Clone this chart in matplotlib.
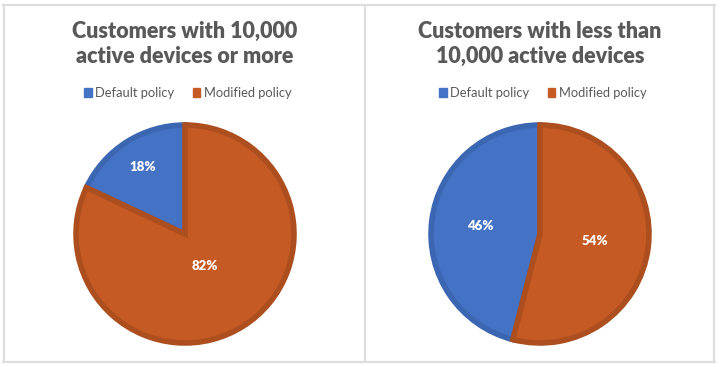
import math

import matplotlib
matplotlib.use('Agg')
import matplotlib.pyplot as plt
from matplotlib.lines import Line2D
from matplotlib.patches import Patch

# data
titles = ["Customers with 10,000\nactive devices or more",
          "Customers with less than\n10,000 active devices"]
categories = ["Default policy", "Modified policy"]
shares_large = [18, 82]
shares_small = [46, 54]

FACE = ["#4472C4", "#C55A24"]
EDGE = ["#3A66B2", "#AD4E1F"]
GREY = "#595959"
W, H = 720, 367

plt.rcParams['font.family'] = ['Lato', 'DejaVu Sans']

fig = plt.figure(figsize=(W / 100, H / 100), dpi=100)

# table-like frame round the two charts
def hline(y, x0, x1):
    fig.add_artist(Line2D([x0 / W, x1 / W], [1 - y / H, 1 - y / H], color="#DEDEDE", lw=1.6))

def vline(x, y0, y1):
    fig.add_artist(Line2D([x / W, x / W], [1 - y0 / H, 1 - y1 / H], color="#DEDEDE", lw=1.6))

hline(5, 3, 715)
hline(362, 3, 715)
vline(3.5, 5, 362)
vline(365, 5, 362)
vline(714, 5, 362)


def draw_panel(cx, shares, title, label_r):
    """one pie with its title and legend, cx is panel centre in pixels"""
    r = 111
    cy = 234
    ax = fig.add_axes([(cx - r) / W, 1 - (cy + r) / H, 2 * r / W, 2 * r / H])
    wedges, _ = ax.pie(shares, colors=FACE, startangle=90, counterclock=True,
                       radius=0.982,
                       wedgeprops=dict(linewidth=4, joinstyle='miter'))
    for w, ec in zip(wedges, EDGE):
        w.set_edgecolor(ec)
        w.set_clip_on(False)
    ax.set_xlim(-1, 1)
    ax.set_ylim(-1, 1)
    ax.set_aspect('equal')
    for w, val, lr in zip(wedges, shares, label_r):
        mid = (w.theta1 + w.theta2) / 2
        x = lr * math.cos(math.radians(mid))
        y = lr * math.sin(math.radians(mid))
        ax.text(x, y, f"{val}%", color="white", fontsize=9.5, fontweight="heavy",
                ha="center", va="center")

    fig.text(cx / W, 1 - 44 / H, title, ha="center", va="center", fontsize=15.5,
             fontweight="heavy", color=GREY, linespacing=1.25)

    handles = [Patch(facecolor=c, edgecolor=c) for c in FACE]
    fig.legend(handles, categories, loc="center", bbox_to_anchor=(cx / W + 0.004, 1 - 93 / H),
               ncol=2, frameon=False, fontsize=9.3, labelcolor=GREY,
               handlelength=0.6, handleheight=0.6, handletextpad=0.3, columnspacing=1.4)


draw_panel(185, shares_large, titles[0], [0.71, 0.34])
draw_panel(540, shares_small, titles[1], [0.54, 0.50])

fig.savefig("out.png", dpi=100)
